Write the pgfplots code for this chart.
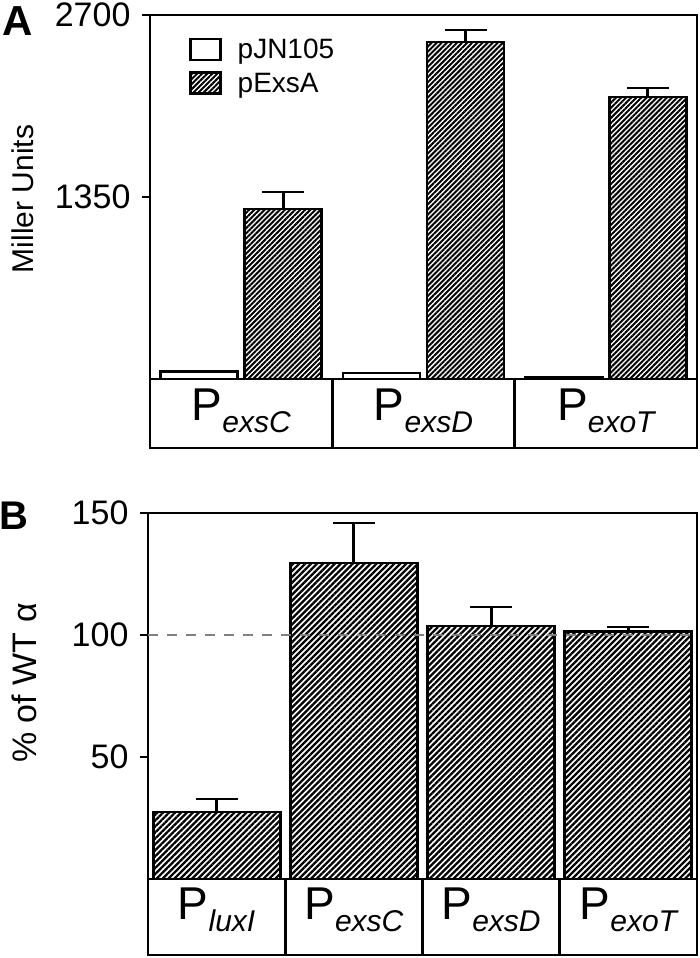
\documentclass[border=0pt]{standalone}
\usepackage{fontspec}
\setmainfont{Liberation Sans}
\usepackage{pgfplots}
\pgfplotsset{compat=1.18}
\usetikzlibrary{patterns.meta}

% promoter label: big P with italic subscript
\newcommand{\prom}[1]{{\fontsize{46}{46}\selectfont P}\raisebox{-12pt}{\fontsize{30}{30}\selectfont\itshape #1}}

\pgfplotsset{
  panel/.style={
    scale only axis, clip=false,
    axis line style={line width=2.8pt},
    major tick style={black, line width=2.8pt},
    major tick length=8pt, tick align=outside,
    ytick pos=left, xtick style={draw=none},
    /pgf/number format/assume math mode=true,
    /pgf/number format/1000 sep={},
    yticklabel style={font=\fontsize{34}{34}\selectfont, xshift=-8pt},
    xticklabel style={anchor=base, yshift=-33pt},
    ybar,
  },
  errs/.style={error bars/.cd, y dir=plus, y explicit,
    error bar style={line width=2.8pt},
    error mark options={rotate=90, mark size=21pt, line width=2.8pt}},
}

\begin{document}
\begin{tikzpicture}

\begin{axis}[panel, at={(150pt,-379pt)}, anchor=south west,
  width=547pt, height=364pt,
  xmin=-0.5, xmax=2.5, ymin=0, ymax=2700, ytick={1350,2700},
  xtick={0,1,2}, xticklabels={\prom{exsC},\prom{exsD},\prom{exoT}},
  bar width=77pt, ybar=7pt,
  legend image code/.code={\draw[#1, line width=2.4pt] (0pt,-10pt) rectangle (30pt,11pt);},
  legend style={at={(rel axis cs:0.066,0.945)}, anchor=north west, draw=none, fill=none,
    font=\fontsize{28}{28}\selectfont, row sep=9pt, cells={anchor=west},
    /tikz/every odd column/.append style={column sep=14pt}},
  legend cell align=left]
\addplot[draw=black, line width=2.8pt, fill=white] coordinates {(0,55) (1,45) (2,15)};
\addlegendentry{pJN105}
\addplot[draw=black, line width=2.8pt,
  pattern={Lines[angle=45,distance=3.6pt,line width=2pt]}, errs]
  coordinates {(0,1261) +- (0,126) (1,2500) +- (0,89) (2,2092) +- (0,67)};
\addlegendentry{pExsA}
\draw[line width=2.8pt] (axis cs:-0.5,0) rectangle ([yshift=-69pt]axis cs:2.5,0);
\draw[line width=2.8pt] (axis cs:0.5,0) -- ([yshift=-69pt]axis cs:0.5,0);
\draw[line width=2.8pt] (axis cs:1.5,0) -- ([yshift=-69pt]axis cs:1.5,0);
\end{axis}

\begin{axis}[panel, at={(148pt,-879pt)}, anchor=south west,
  width=549pt, height=366pt,
  xmin=-0.5, xmax=3.5, ymin=0, ymax=150, ytick={50,100,150},
  xtick={0,1,2,3}, xticklabels={\prom{luxI},\prom{exsC},\prom{exsD},\prom{exoT}},
  xticklabel style={yshift=1pt},
  bar width=127pt]
\addplot[draw=black, line width=2.8pt,
  pattern={Lines[angle=45,distance=4.2pt,line width=2.3pt]}, errs]
  coordinates {(0,27.5) +- (0,5.3) (1,129.5) +- (0,16.4) (2,103.7) +- (0,7.8) (3,101.6) +- (0,1.7)};
\draw[gray, line width=2.6pt, dash pattern=on 10pt off 9pt] (axis cs:-0.5,100) -- (axis cs:3.5,100);
\draw[line width=2.8pt] (axis cs:-0.5,0) rectangle ([yshift=-76pt]axis cs:3.5,0);
\draw[line width=2.8pt] (axis cs:0.5,0) -- ([yshift=-76pt]axis cs:0.5,0);
\draw[line width=2.8pt] (axis cs:1.5,0) -- ([yshift=-76pt]axis cs:1.5,0);
\draw[line width=2.8pt] (axis cs:2.5,0) -- ([yshift=-76pt]axis cs:2.5,0);
\end{axis}

\node[font=\bfseries\fontsize{42}{42}\selectfont] at (18pt,-21pt) {A};
\node[font=\bfseries\fontsize{40}{40}\selectfont] at (14pt,-516pt) {B};
\node[rotate=90, font=\fontsize{30}{30}\selectfont] at (23pt,-199pt) {Miller Units};
\node[rotate=90, font=\fontsize{34}{34}\selectfont] at (24pt,-683pt) {\% of WT α};

\pgfresetboundingbox
\path[use as bounding box] (0,0) rectangle (700pt,-958pt);
\end{tikzpicture}
\end{document}
